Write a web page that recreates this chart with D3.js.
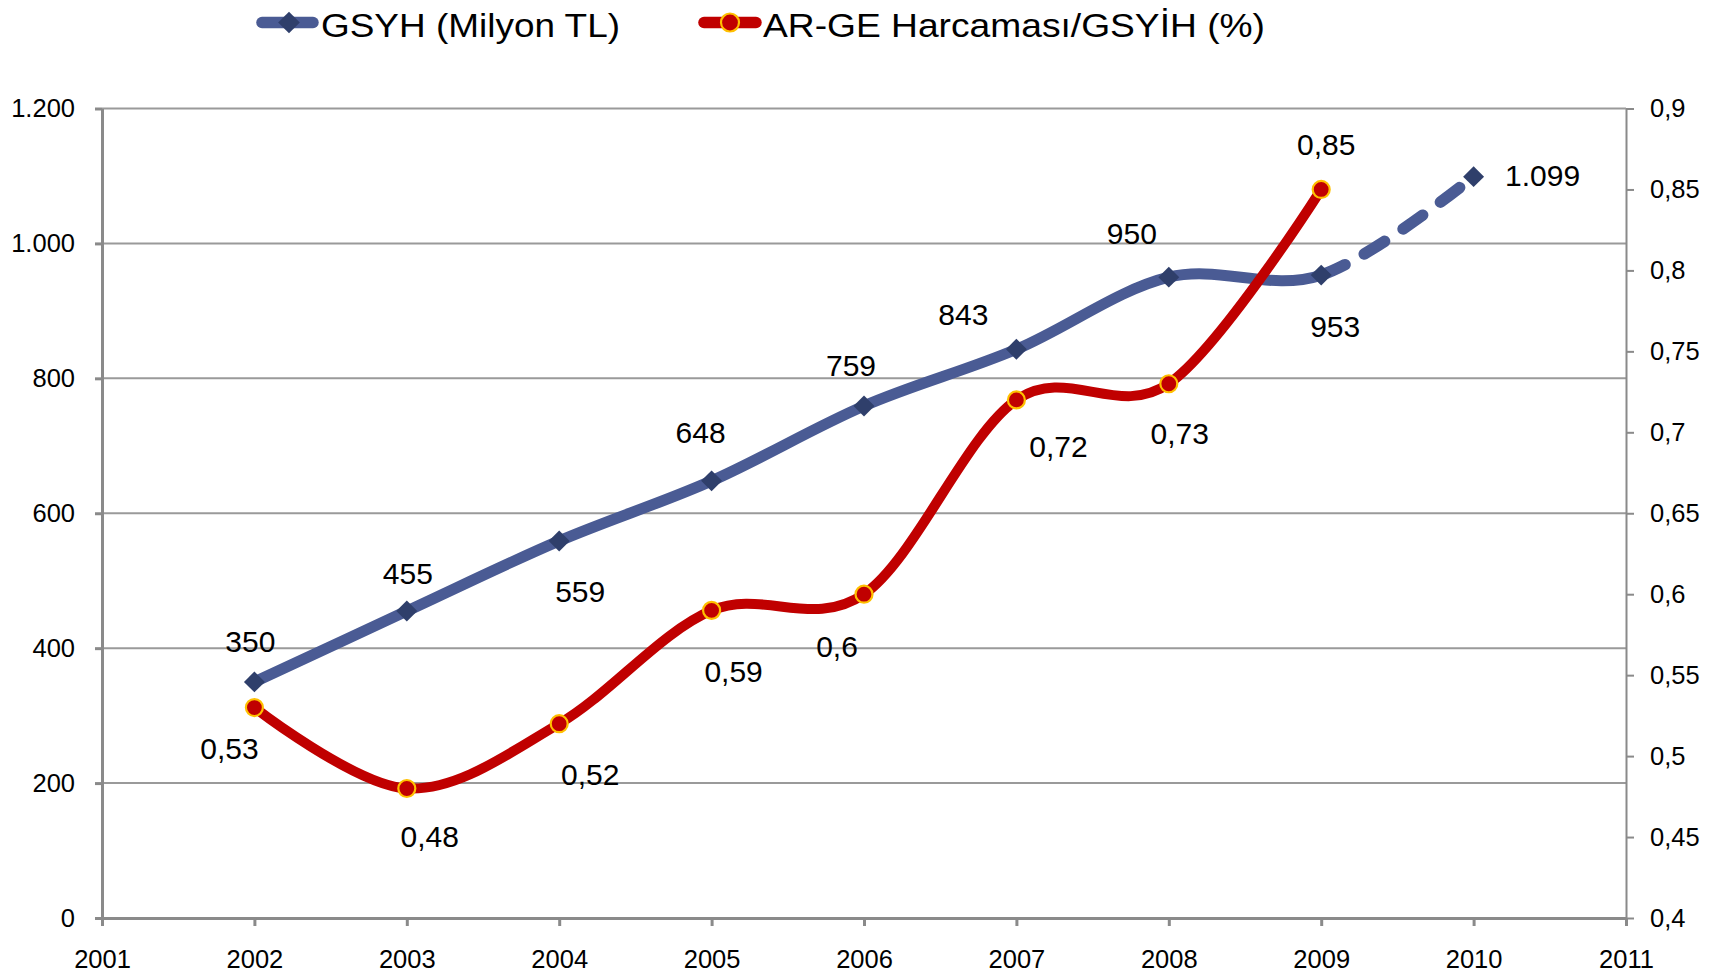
<!DOCTYPE html>
<html>
<head>
<meta charset="utf-8">
<script src="https://cdn.jsdelivr.net/npm/d3@7"></script>
<style>
  html, body { margin: 0; padding: 0; background: #fff; }
  svg { display: block; font-family: "Liberation Sans", Arial, sans-serif; }
</style>
</head>
<body>
<svg id="chart" width="1717" height="975"></svg>
<script>
// ---------------- data ----------------
const gsyhYears = [2002, 2003, 2004, 2005, 2006, 2007, 2008, 2009, 2010];
const gsyhValues = [350, 455, 559, 648, 759, 843, 950, 953, 1099];
const argeYears = [2002, 2003, 2004, 2005, 2006, 2007, 2008, 2009];
const argeValues = [0.53, 0.48, 0.52, 0.59, 0.6, 0.72, 0.73, 0.85];
const xTickValues = [2001, 2002, 2003, 2004, 2005, 2006, 2007, 2008, 2009, 2010, 2011];
const leftTickValues = [0, 200, 400, 600, 800, 1000, 1200];
const rightTickValues = [0.4, 0.45, 0.5, 0.55, 0.6, 0.65, 0.7, 0.75, 0.8, 0.85, 0.9];
const legendLabels = ["GSYH (Milyon TL)", "AR-GE Harcaması/GSYİH (%)"];
const dashedFromYear = 2009;

// label placement (pixel offsets from the point, layout only)
const gsyhLabelOffsets = [[-4,-41],[1,-38],[21,50],[-11,-49],[-13,-41],[-53,-35],[-37,-44],[14,51],[69,-1]];
const argeLabelOffsets = [[-25,41],[23,48],[31,50],[22,61],[-27,52],[42,46],[11,49],[5,-45]];

(function () {
// ---------------- setup ----------------
const tr = d3.formatLocale({decimal: ",", thousands: ".", grouping: [3], currency: ["", " TL"]});
const fmtInt = tr.format(",d");
const fmtDec = tr.format(".2~f");

const W = 1717, H = 975;
const mLeft = 102, mRight = 1626, mTop = 108.5, mBottom = 918;
const BLUE = "#4a5b94", BLUE_DARK = "#2f3f6b", RED = "#c00000", ORANGE = "#ffc000";
const AXIS = "#8a8a8a", GRID = "#9a9a9a";

const svg = d3.select("#chart");
const x = d3.scaleLinear().domain([2001, 2011]).range([mLeft, mRight]);
const yL = d3.scaleLinear().domain([0, 1200]).range([mBottom, mTop]);
const yR = d3.scaleLinear().domain([0.4, 0.9]).range([mBottom, mTop]);

// gridlines
svg.append("g").selectAll("line").data(leftTickValues.filter(d => d > 0)).join("line")
  .attr("x1", mLeft).attr("x2", mRight)
  .attr("y1", d => yL(d)).attr("y2", d => yL(d))
  .attr("stroke", GRID).attr("stroke-width", 2);

// axes
function styleAxis(g, width) {
  g.select(".domain").attr("stroke", AXIS).attr("stroke-width", width);
  g.selectAll(".tick line").attr("stroke", AXIS).attr("stroke-width", width);
  g.selectAll(".tick text").attr("fill", "#000").attr("font-size", "25.5px")
    .attr("font-family", "'Liberation Sans', Arial, sans-serif");
}
const gx = svg.append("g").attr("transform", `translate(0,${mBottom})`)
  .call(d3.axisBottom(x).tickValues(xTickValues).tickFormat(d3.format("d")).tickSize(8).tickSizeOuter(0).tickPadding(24));
styleAxis(gx, 3);
const gl = svg.append("g").attr("transform", `translate(${mLeft},0)`)
  .call(d3.axisLeft(yL).tickValues(leftTickValues).tickFormat(fmtInt).tickSize(7).tickSizeOuter(0).tickPadding(20));
styleAxis(gl, 3);
const gr = svg.append("g").attr("transform", `translate(${mRight},0)`)
  .call(d3.axisRight(yR).tickValues(rightTickValues).tickFormat(fmtDec).tickSize(8).tickSizeOuter(0).tickPadding(16));
styleAxis(gr, 2);

// clip paths for solid / dashed parts of GSYH
const defs = svg.append("defs");
defs.append("clipPath").attr("id", "clipSolid").append("rect")
  .attr("x", 0).attr("y", 0).attr("width", x(dashedFromYear)).attr("height", H);
defs.append("clipPath").attr("id", "clipDash").append("rect")
  .attr("x", x(dashedFromYear)).attr("y", 0).attr("width", W - x(dashedFromYear)).attr("height", H);

const gsyhData = gsyhYears.map((y, i) => ({year: y, v: gsyhValues[i]}));
const argeData = argeYears.map((y, i) => ({year: y, v: argeValues[i]}));

const lineL = d3.line().x(d => x(d.year)).y(d => yL(d.v)).curve(d3.curveCardinal.tension(0));
const lineR = d3.line().x(d => x(d.year)).y(d => yR(d.v)).curve(d3.curveCardinal.tension(0));

// GSYH line
svg.append("path").attr("d", lineL(gsyhData)).attr("fill", "none")
  .attr("stroke", BLUE).attr("stroke-width", 11).attr("stroke-linecap", "round").attr("stroke-linejoin", "round")
  .attr("clip-path", "url(#clipSolid)");
const dashPath = svg.append("path").attr("d", lineL(gsyhData)).attr("fill", "none")
  .attr("stroke", BLUE).attr("stroke-width", 11.5).attr("stroke-linecap", "round")
  .attr("stroke-dasharray", "24 22")
  .attr("clip-path", "url(#clipDash)");
// start the dash pattern at the 2009 point
{
  const node = dashPath.node();
  const total = node.getTotalLength();
  const tx = x(dashedFromYear);
  let lo = 0, hi = total;
  for (let k = 0; k < 40; k++) {
    const mid = (lo + hi) / 2;
    if (node.getPointAtLength(mid).x < tx) lo = mid; else hi = mid;
  }
  dashPath.attr("stroke-dashoffset", -(lo + 2));
}

// GSYH markers
const diamond = d3.symbol().type(d3.symbolDiamond2).size(280);
svg.append("g").selectAll("path").data(gsyhData).join("path")
  .attr("d", diamond)
  .attr("transform", d => `translate(${x(d.year)},${yL(d.v)})`)
  .attr("fill", BLUE_DARK);

// AR-GE line
svg.append("path").attr("d", lineR(argeData)).attr("fill", "none")
  .attr("stroke", RED).attr("stroke-width", 10).attr("stroke-linecap", "round").attr("stroke-linejoin", "round");
svg.append("g").selectAll("circle").data(argeData).join("circle")
  .attr("cx", d => x(d.year)).attr("cy", d => yR(d.v)).attr("r", 8.5)
  .attr("fill", RED).attr("stroke", ORANGE).attr("stroke-width", 2.2);

// data labels
svg.append("g").selectAll("text").data(gsyhData).join("text")
  .attr("x", (d, i) => x(d.year) + gsyhLabelOffsets[i][0])
  .attr("y", (d, i) => yL(d.v) + gsyhLabelOffsets[i][1])
  .attr("dy", "0.36em").attr("text-anchor", "middle").attr("font-size", "30px").attr("fill", "#000")
  .text(d => fmtInt(d.v));
svg.append("g").selectAll("text").data(argeData).join("text")
  .attr("x", (d, i) => x(d.year) + argeLabelOffsets[i][0])
  .attr("y", (d, i) => yR(d.v) + argeLabelOffsets[i][1])
  .attr("dy", "0.36em").attr("text-anchor", "middle").attr("font-size", "30px").attr("fill", "#000")
  .text(d => fmtDec(d.v));

// legend
const lg = svg.append("g");
lg.append("line").attr("x1", 262).attr("x2", 313).attr("y1", 22.5).attr("y2", 22.5)
  .attr("stroke", BLUE).attr("stroke-width", 11.5).attr("stroke-linecap", "round");
lg.append("path").attr("d", d3.symbol().type(d3.symbolDiamond2).size(300)())
  .attr("transform", "translate(289,22.5)").attr("fill", BLUE_DARK);
lg.append("text").attr("x", 321).attr("y", 36.5).attr("font-size", "33px").attr("fill", "#000")
  .attr("textLength", 299).attr("lengthAdjust", "spacingAndGlyphs").text(legendLabels[0]);
lg.append("line").attr("x1", 704).attr("x2", 756).attr("y1", 22.5).attr("y2", 22.5)
  .attr("stroke", RED).attr("stroke-width", 11.5).attr("stroke-linecap", "round");
lg.append("circle").attr("cx", 730).attr("cy", 22.5).attr("r", 9)
  .attr("fill", RED).attr("stroke", ORANGE).attr("stroke-width", 2.2);
lg.append("text").attr("x", 763).attr("y", 36.5).attr("font-size", "33px").attr("fill", "#000")
  .attr("textLength", 502).attr("lengthAdjust", "spacingAndGlyphs").text(legendLabels[1]);
})();
</script>
</body>
</html>
